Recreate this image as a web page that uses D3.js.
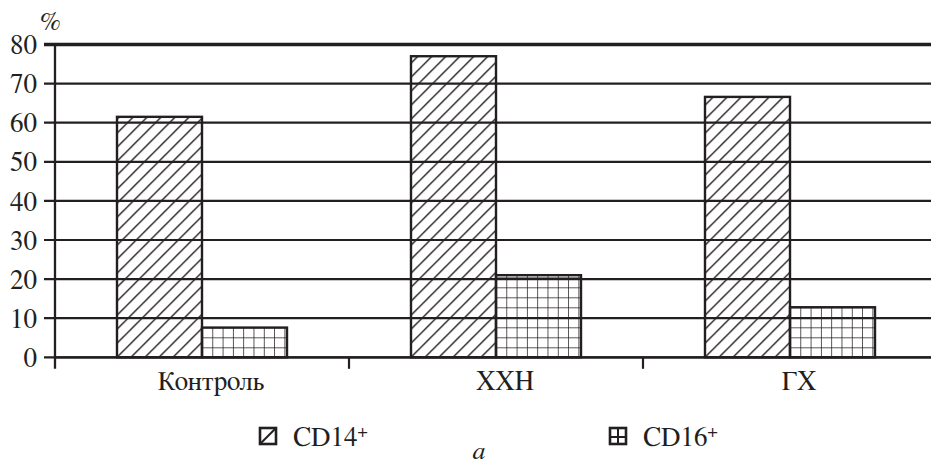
<!DOCTYPE html>
<html>
<head>
<meta charset="utf-8">
<script src="https://cdn.jsdelivr.net/npm/d3@7"></script>
<style>
  html, body { margin: 0; padding: 0; background: #fff; overflow: hidden; }
  svg { display: block; }
</style>
</head>
<body>
<svg id="chart" width="931" height="459"></svg>
<script>
const categories = ["Контроль", "ХХН", "ГХ"];
const seriesNames = ["CD14+", "CD16+"];
const cd14 = [61.5, 77, 66.6];
const cd16 = [7.6, 21, 12.8];
const yTicks = [0, 10, 20, 30, 40, 50, 60, 70, 80];

const ink = "#231f20";
const FONT = "FreeSerif, 'Liberation Serif', 'DejaVu Serif', serif";
const svg = d3.select("#chart");
const W = 931, H = 459;
const plotLeft = 55, plotTop = 44.5, plotBottom = 357.3;

const y = d3.scaleLinear().domain([0, 80]).range([plotBottom, plotTop]);
const x0 = d3.scaleBand().domain(categories).range([plotLeft, plotLeft + 3 * 294]).padding(0);
const x1 = d3.scaleBand().domain(seriesNames).range([62, 232]).padding(0);

const data = [];
categories.forEach((c, i) => {
  data.push({ cat: c, s: seriesNames[0], v: cd14[i], idx: i });
  data.push({ cat: c, s: seriesNames[1], v: cd16[i], idx: i });
});

// patterns, one per bar, anchored at the bar's bottom-left corner
const defs = svg.append("defs");
data.forEach((d, k) => {
  const bx = x0(d.cat) + x1(d.s);
  const by = y(0);
  if (d.s === seriesNames[0]) {
    const p = defs.append("pattern")
      .attr("id", "pat" + k)
      .attr("patternUnits", "userSpaceOnUse")
      .attr("x", bx).attr("y", by)
      .attr("width", 14).attr("height", 14);
    p.append("path").attr("d", "M-2,2 L2,-2 M0,14 L14,0 M12,16 L16,12")
      .attr("stroke", ink).attr("stroke-width", 1.4);
  } else {
    const p = defs.append("pattern")
      .attr("id", "pat" + k)
      .attr("patternUnits", "userSpaceOnUse")
      .attr("x", bx).attr("y", by)
      .attr("width", 10.3).attr("height", 10);
    p.append("path").attr("d", "M0,0 V10 M0,0 H10.3")
      .attr("stroke", ink).attr("stroke-width", 1.5);
  }
});

// gridlines (with left tick extension)
svg.append("g").selectAll("line").data(yTicks).join("line")
  .attr("x1", plotLeft - 11).attr("x2", W)
  .attr("y1", d => y(d)).attr("y2", d => y(d))
  .attr("stroke", ink)
  .attr("stroke-width", d => d === 80 ? 3.5 : 2.2);

// y tick labels via axis
const yAxis = d3.axisLeft(y).tickValues(yTicks).tickSize(0).tickPadding(18);
const gy = svg.append("g").attr("transform", `translate(${plotLeft},0)`).call(yAxis);
gy.select(".domain").remove();
gy.selectAll("text").style("font-family", FONT).style("font-size", "27px")
  .attr("fill", ink).attr("dy", "0.34em");

// bars
svg.append("g").selectAll("rect").data(data).join("rect")
  .attr("x", d => x0(d.cat) + x1(d.s))
  .attr("y", d => y(d.v))
  .attr("width", x1.bandwidth())
  .attr("height", d => y(0) - y(d.v))
  .attr("fill", (d, k) => `url(#pat${k})`)
  .attr("stroke", ink)
  .attr("stroke-width", 2.4);

// y axis line
svg.append("line").attr("x1", plotLeft).attr("x2", plotLeft)
  .attr("y1", y(80)).attr("y2", y(0) + 11.5)
  .attr("stroke", ink).attr("stroke-width", 2.3);

// x axis line and category ticks
const gx = svg.append("g").attr("transform", `translate(0,${y(0)})`);
gx.append("line").attr("x1", plotLeft).attr("x2", W).attr("y1", 0).attr("y2", 0)
  .attr("stroke", ink).attr("stroke-width", 2.2);
gx.selectAll("line.tk").data(categories.slice(1)).join("line").attr("class", "tk")
  .attr("x1", d => x0(d)).attr("x2", d => x0(d))
  .attr("y1", 0).attr("y2", 11.5)
  .attr("stroke", ink).attr("stroke-width", 2.2);
gx.selectAll("text").data(categories).join("text")
  .attr("x", d => x0(d) + x0.bandwidth() / 2 + 9)
  .attr("y", 33)
  .attr("text-anchor", "middle")
  .style("font-family", FONT).style("font-size", "27px")
  .attr("fill", ink)
  .text(d => d);

// unit label
svg.append("text").attr("x", 40).attr("y", 30)
  .style("font-family", FONT).style("font-size", "26px")
  .attr("fill", ink).text("%");

// legend
const legendX = [259, 609];
const lg = svg.append("g").selectAll("g").data(seriesNames).join("g")
  .attr("transform", (d, i) => `translate(${legendX[i]},427)`);
lg.append("rect").attr("x", 1).attr("y", 1).attr("width", 16).attr("height", 16)
  .attr("fill", "#fff").attr("stroke", ink).attr("stroke-width", 2.6);
lg.filter((d, i) => i === 0).append("path").attr("d", "M2,16 L16,2")
  .attr("stroke", ink).attr("stroke-width", 2);
lg.filter((d, i) => i === 1).append("path").attr("d", "M9,2 V16 M2,10 H16")
  .attr("stroke", ink).attr("stroke-width", 2);
const lt = lg.append("text").attr("x", 34).attr("y", 19)
  .style("font-family", FONT).style("font-size", "27px")
  .attr("fill", ink);
lt.append("tspan").text(d => d.slice(0, -1));
lt.append("tspan").style("font-size", "18px").attr("dy", -9).text(d => d.slice(-1));

// panel letter
svg.append("text").attr("x", 479).attr("y", 459)
  .attr("text-anchor", "middle")
  .style("font-family", FONT).style("font-style", "italic").style("font-size", "26px")
  .attr("fill", ink).text("а");
</script>
</body>
</html>
